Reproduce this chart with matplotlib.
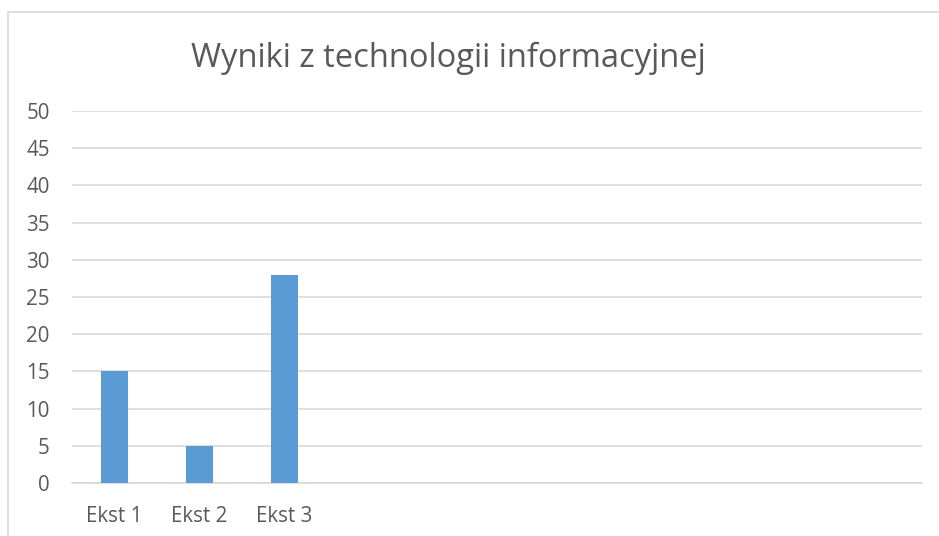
import matplotlib.pyplot as plt
from matplotlib.patches import Rectangle

categories = ["Ekst 1", "Ekst 2", "Ekst 3", "", "", "", "", "", "", ""]
values = [15, 5, 28, None, None, None, None, None, None, None]
yticks = [0, 5, 10, 15, 20, 25, 30, 35, 40, 45, 50]

plt.rcParams["font.family"] = ["Open Sans", "DejaVu Sans"]

W, H = 939, 536
fig = plt.figure(figsize=(W / 100, H / 100), dpi=100)

# ramka wykresu (jak w Excelu)
fig.patches.append(Rectangle((8 / W, -0.1), 1.2, 1.1 - 12 / H, transform=fig.transFigure,
                             fill=False, edgecolor="#d9d9d9", linewidth=1.2))

ax = fig.add_axes([72 / W, 53 / H, 850 / W, 372 / H])

x = list(range(len(categories)))
heights = [v if v is not None else 0 for v in values]
ax.bar(x, heights, width=0.31, color="#5b9bd5", zorder=3)

ax.set_xlim(-0.5, len(categories) - 0.5)
ax.set_ylim(0, 50)
ax.set_yticks(yticks)
ax.set_xticks(x)
ax.set_xticklabels(categories)
ax.grid(axis="y", color="#d9d9d9", linewidth=1.2, zorder=0)
for s in ["top", "right", "left"]:
    ax.spines[s].set_visible(False)
ax.spines["bottom"].set_color("#d9d9d9")
ax.spines["bottom"].set_linewidth(1.2)
ax.tick_params(axis="both", length=0, labelsize=14.8, labelcolor="#595959")
ax.tick_params(axis="y", pad=16)
ax.tick_params(axis="x", pad=16.5)

fig.text(448 / W, 1 - 58 / H, "Wyniki z technologii informacyjnej",
         ha="center", va="center", fontsize=23.5, color="#595959")

fig.savefig("out.png", dpi=100)
